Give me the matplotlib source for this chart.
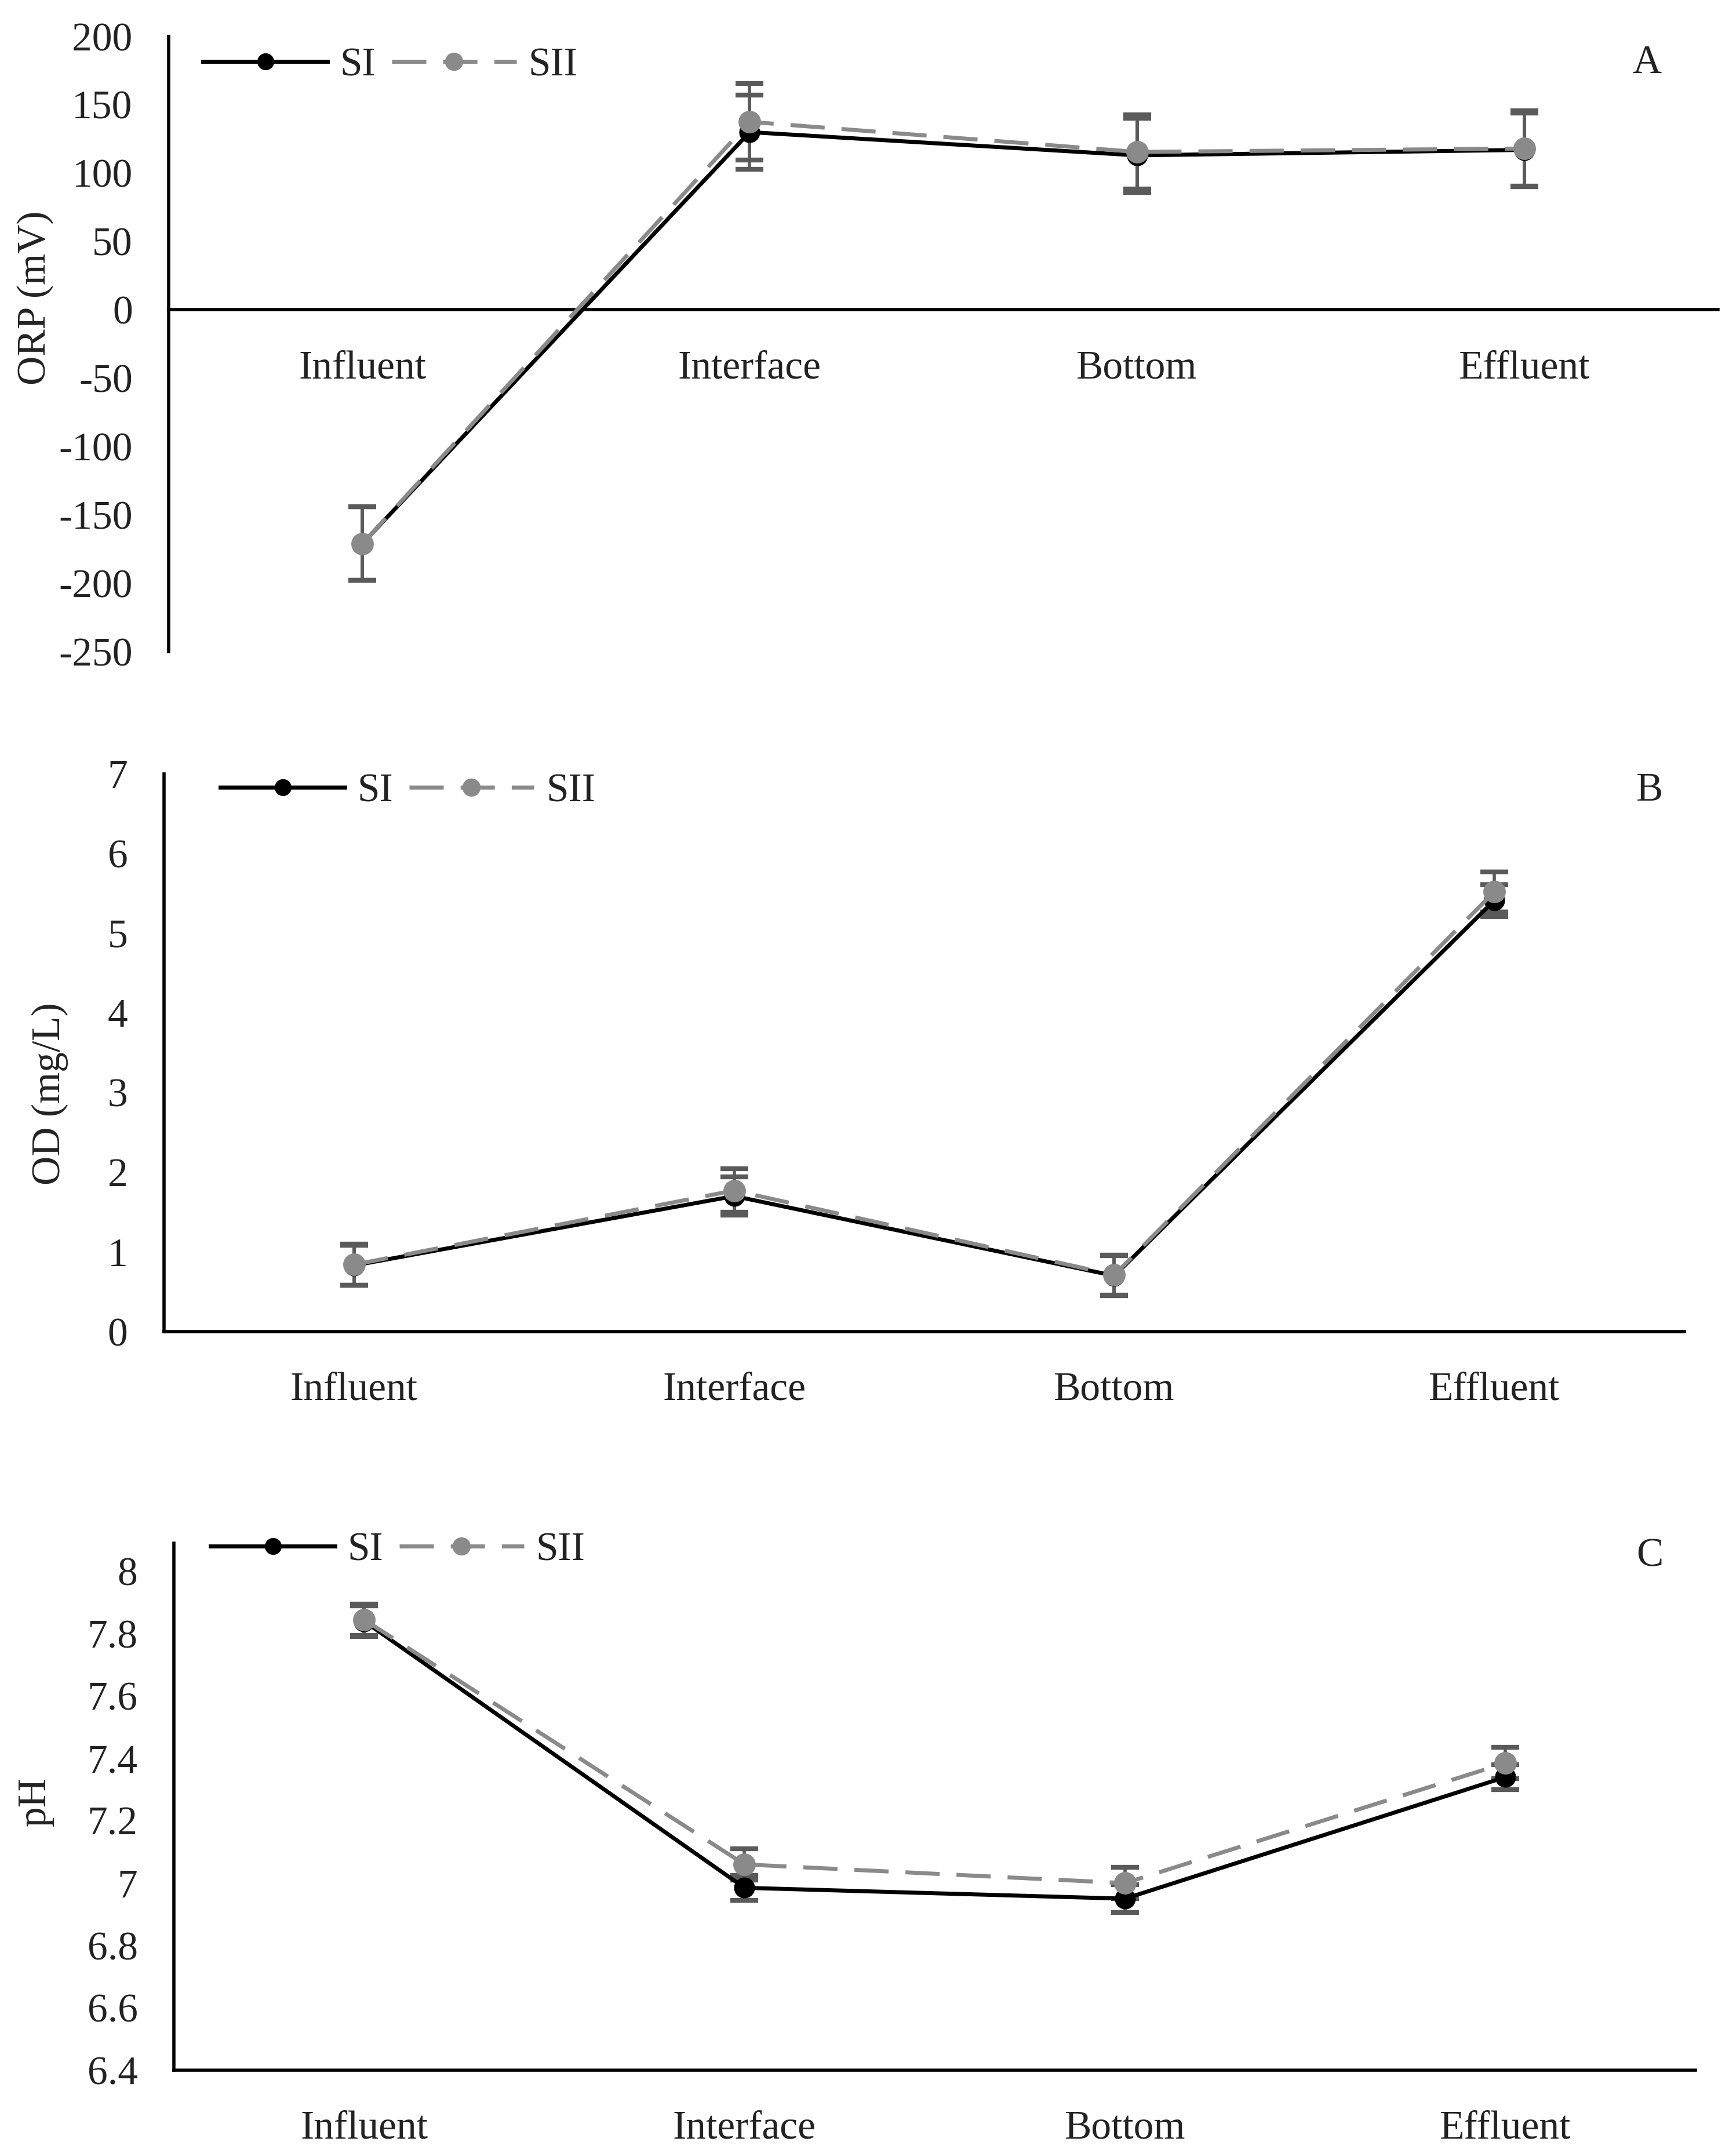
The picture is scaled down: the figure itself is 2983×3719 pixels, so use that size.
import matplotlib
matplotlib.use("Agg")
import matplotlib.pyplot as plt
import numpy as np

plt.rcParams['font.family'] = ['Liberation Serif', 'DejaVu Serif']
plt.rcParams['axes.unicode_minus'] = False

categories = ["Influent", "Interface", "Bottom", "Effluent"]

# ORP (mV)
orp_si = [-171, 130, 113, 117]
orp_sii = [-171, 137.5, 115.5, 118]
orp_si_err = [27, 27, 27, 27]
orp_sii_err = [27, 28, 27, 27.5]

# OD (mg/L)
od_si = [0.83, 1.70, 0.70, 5.41]
od_sii = [0.84, 1.77, 0.71, 5.52]
od_si_err = [0.25, 0.24, 0.25, 0.20]
od_sii_err = [0.26, 0.27, 0.25, 0.25]

# pH
ph_si = [7.84, 6.985, 6.95, 7.34]
ph_sii = [7.845, 7.06, 7.00, 7.385]
ph_si_err = [0.05, 0.04, 0.045, 0.04]
ph_sii_err = [0.05, 0.05, 0.05, 0.05]

FS = 50
SI_COL = "black"
SII_COL = "#8a8a8a"
ERR_COL = "#5a5a5a"


def panel(ax, si, sii, si_err, sii_err, ylim, yticks, ylabel, letter,
          ylab_pos, letter_pos, leg_pos, zero_axis=False, ticklabels=None):
    x = np.arange(len(categories))
    ax.errorbar(x, si, yerr=si_err, fmt="none", ecolor=ERR_COL, elinewidth=4,
                capsize=17, capthick=6, zorder=2)
    ax.errorbar(x, sii, yerr=sii_err, fmt="none", ecolor=ERR_COL, elinewidth=4,
                capsize=17, capthick=6, zorder=2)
    ax.plot(x, si, color=SI_COL, lw=5, marker="o", ms=25, label="SI", zorder=3)
    ax.plot(x, sii, color=SII_COL, lw=5, ls=(0, (8.5, 4.2)), marker="o", ms=27,
            label="SII", zorder=4)

    ax.set_xlim(-0.5, len(categories) - 0.5)
    ax.set_ylim(*ylim)
    ax.set_yticks(yticks)
    if ticklabels is not None:
        ax.set_yticklabels(ticklabels)
    ax.set_xticks(x)
    ax.set_xticklabels(categories)
    ax.tick_params(axis="both", length=0, labelsize=FS, colors="#222222")
    ax.tick_params(axis="y", pad=45)
    ax.tick_params(axis="x", pad=50)

    for s in ["top", "right"]:
        ax.spines[s].set_visible(False)
    ax.spines["left"].set_linewidth(4)
    ax.spines["bottom"].set_linewidth(4)
    if zero_axis:
        ax.spines["bottom"].set_position(("data", 0))

    ax.set_ylabel(ylabel, fontsize=FS, color="#222222")
    ax.yaxis.set_label_coords(*ylab_pos)
    ax.text(letter_pos[0], letter_pos[1], letter, transform=ax.transAxes,
            fontsize=FS, ha="center", va="center", color="#222222")

    leg = ax.legend(loc="center left", bbox_to_anchor=leg_pos, ncol=2,
                    frameon=False, fontsize=FS, handlelength=3.1,
                    handletextpad=0.3, columnspacing=0.4, borderpad=0,
                    borderaxespad=0, markerscale=0.8)
    for t in leg.get_texts():
        t.set_color("#222222")


fig = plt.figure(figsize=(29.83, 37.19), dpi=100)

ax1 = fig.add_axes([0.0976, 0.6978, 0.896, 0.2853])
panel(ax1, orp_si, orp_sii, orp_si_err, orp_sii_err, (-250, 200),
      np.arange(-250, 201, 50), "ORP (mV)", "A",
      (-0.074, 0.575), (0.954, 0.956), (0.022, 0.952), zero_axis=True)

ax2 = fig.add_axes([0.0949, 0.3824, 0.8793, 0.2587])
panel(ax2, od_si, od_sii, od_si_err, od_sii_err, (0, 7),
      np.arange(0, 8, 1), "OD (mg/L)", "B",
      (-0.063, 0.426), (0.977, 0.969), (0.037, 0.968))

ax3 = fig.add_axes([0.1006, 0.0398, 0.880, 0.2444])
pt = [6.4, 6.6, 6.8, 7.0, 7.2, 7.4, 7.6, 7.8, 8.0]
panel(ax3, ph_si, ph_sii, ph_si_err, ph_sii_err, (6.4, 8.09),
      pt, "pH", "C",
      (-0.079, 0.51), (0.970, 0.975), (0.024, 0.986),
      ticklabels=["6.4", "6.6", "6.8", "7", "7.2", "7.4", "7.6", "7.8", "8"])

fig.savefig("out.png", dpi=100)
